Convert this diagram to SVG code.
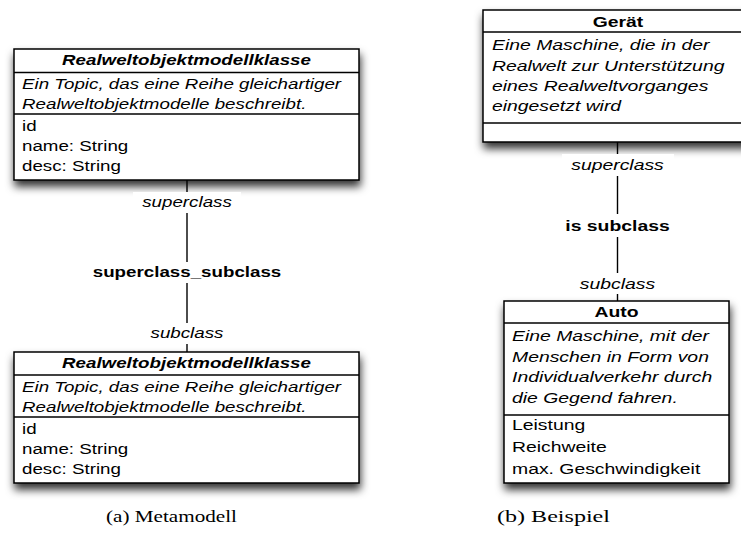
<svg xmlns="http://www.w3.org/2000/svg" width="741" height="547" viewBox="0 0 741 547">
  <defs>
    <filter id="drop" x="-15%" y="-15%" width="130%" height="150%">
      <feDropShadow dx="1" dy="6" stdDeviation="4.5" flood-color="#000" flood-opacity="0.8"/>
    </filter>
  </defs>
  <style>
    .box{fill:#fff;stroke:#000;stroke-width:1.5}
    .sep{stroke:#000;stroke-width:1.3}
    text{font-family:"Liberation Sans",Arial,Helvetica,sans-serif;font-size:15px;fill:#000}
    .r text{font-size:15.5px}
    .title{font-weight:bold;text-anchor:middle}
    .ital{font-style:italic}
    .bold{font-weight:bold}
    .mid{text-anchor:middle}
    .edge{stroke:#000;stroke-width:1.4;fill:none}
    .lblbg{fill:#fff}
    text.cap{font-family:"Liberation Serif","Times New Roman",serif;font-size:17.5px}
  </style>

  <!-- (a) meta model: class boxes -->
  <g id="meta-superclass">
    <rect class="box" x="14" y="49" width="345" height="131" filter="url(#drop)"/>
    <line class="sep" x1="14" y1="72.5" x2="359" y2="72.5"/>
    <line class="sep" x1="14" y1="114" x2="359" y2="114"/>
    <text class="title ital" transform="matrix(1.25 0 0 1 186.5 65)">Realweltobjektmodellklasse</text>
    <text class="ital" transform="matrix(1.25 0 0 1 22 89)">Ein Topic, das eine Reihe gleichartiger</text>
    <text class="ital" transform="matrix(1.25 0 0 1 22 109)">Realweltobjektmodelle beschreibt.</text>
    <text transform="matrix(1.25 0 0 1 22 131)">id</text>
    <text transform="matrix(1.25 0 0 1 22 151)">name: String</text>
    <text transform="matrix(1.25 0 0 1 22 171)">desc: String</text>
  </g>

  <g id="meta-subclass">
    <rect class="box" x="14" y="352" width="345" height="131" filter="url(#drop)"/>
    <line class="sep" x1="14" y1="375" x2="359" y2="375"/>
    <line class="sep" x1="14" y1="417" x2="359" y2="417"/>
    <text class="title ital" transform="matrix(1.25 0 0 1 186.5 368)">Realweltobjektmodellklasse</text>
    <text class="ital" transform="matrix(1.25 0 0 1 22 392)">Ein Topic, das eine Reihe gleichartiger</text>
    <text class="ital" transform="matrix(1.25 0 0 1 22 412)">Realweltobjektmodelle beschreibt.</text>
    <text transform="matrix(1.25 0 0 1 22 434)">id</text>
    <text transform="matrix(1.25 0 0 1 22 454)">name: String</text>
    <text transform="matrix(1.25 0 0 1 22 474)">desc: String</text>
  </g>

  <!-- (b) example: class boxes -->
  <g id="geraet" class="r">
    <rect class="box" x="483" y="10" width="270" height="132" filter="url(#drop)"/>
    <line class="sep" x1="483" y1="32" x2="753" y2="32"/>
    <line class="sep" x1="483" y1="123" x2="753" y2="123"/>
    <text class="title" transform="matrix(1.25 0 0 1 618 27)">Gerät</text>
    <text class="ital" transform="matrix(1.25 0 0 1 492 50)">Eine Maschine, die in der</text>
    <text class="ital" transform="matrix(1.25 0 0 1 492 70.5)">Realwelt zur Unterstützung</text>
    <text class="ital" transform="matrix(1.25 0 0 1 492 91)">eines Realweltvorganges</text>
    <text class="ital" transform="matrix(1.25 0 0 1 492 111)">eingesetzt wird</text>
  </g>

  <g id="auto" class="r">
    <rect class="box" x="504" y="301" width="225" height="182" filter="url(#drop)"/>
    <line class="sep" x1="504" y1="323" x2="729" y2="323"/>
    <line class="sep" x1="504" y1="415" x2="729" y2="415"/>
    <text class="title" transform="matrix(1.25 0 0 1 616.5 317)">Auto</text>
    <text class="ital" transform="matrix(1.25 0 0 1 512 341)">Eine Maschine, mit der</text>
    <text class="ital" transform="matrix(1.25 0 0 1 512 361.7)">Menschen in Form von</text>
    <text class="ital" transform="matrix(1.25 0 0 1 512 382.3)">Individualverkehr durch</text>
    <text class="ital" transform="matrix(1.25 0 0 1 512 403)">die Gegend fahren.</text>
    <text transform="matrix(1.25 0 0 1 512 430)">Leistung</text>
    <text transform="matrix(1.25 0 0 1 512 452)">Reichweite</text>
    <text transform="matrix(1.25 0 0 1 512 474)">max. Geschwindigkeit</text>
  </g>

  <!-- associations with role and name labels -->
  <g id="connectors">
    <line class="edge" x1="187" y1="180" x2="187" y2="352"/>
    <rect class="lblbg" x="133" y="192" width="108" height="21"/>
    <rect class="lblbg" x="92" y="262" width="190" height="21"/>
    <rect class="lblbg" x="148" y="323" width="78" height="21"/>
    <text class="ital mid" transform="matrix(1.25 0 0 1 187 207)">superclass</text>
    <text class="bold mid" transform="matrix(1.25 0 0 1 187 277)">superclass_subclass</text>
    <text class="ital mid" transform="matrix(1.25 0 0 1 187 338)">subclass</text>

    <g class="r">
      <line class="edge" x1="617.5" y1="142" x2="617.5" y2="301"/>
      <rect class="lblbg" x="562" y="154" width="112" height="22"/>
      <rect class="lblbg" x="560" y="214" width="115" height="23"/>
      <rect class="lblbg" x="578" y="273" width="80" height="21"/>
      <text class="ital mid" transform="matrix(1.25 0 0 1 617.5 170)">superclass</text>
      <text class="bold mid" transform="matrix(1.25 0 0 1 617.5 231)">is subclass</text>
      <text class="ital mid" transform="matrix(1.25 0 0 1 617.5 289)">subclass</text>
    </g>
  </g>

  <!-- sub-figure captions -->
  <text class="cap" x="106" y="522" textLength="131" lengthAdjust="spacingAndGlyphs">(a) Metamodell</text>
  <text class="cap" x="497" y="522" textLength="113" lengthAdjust="spacingAndGlyphs">(b) Beispiel</text>
</svg>
